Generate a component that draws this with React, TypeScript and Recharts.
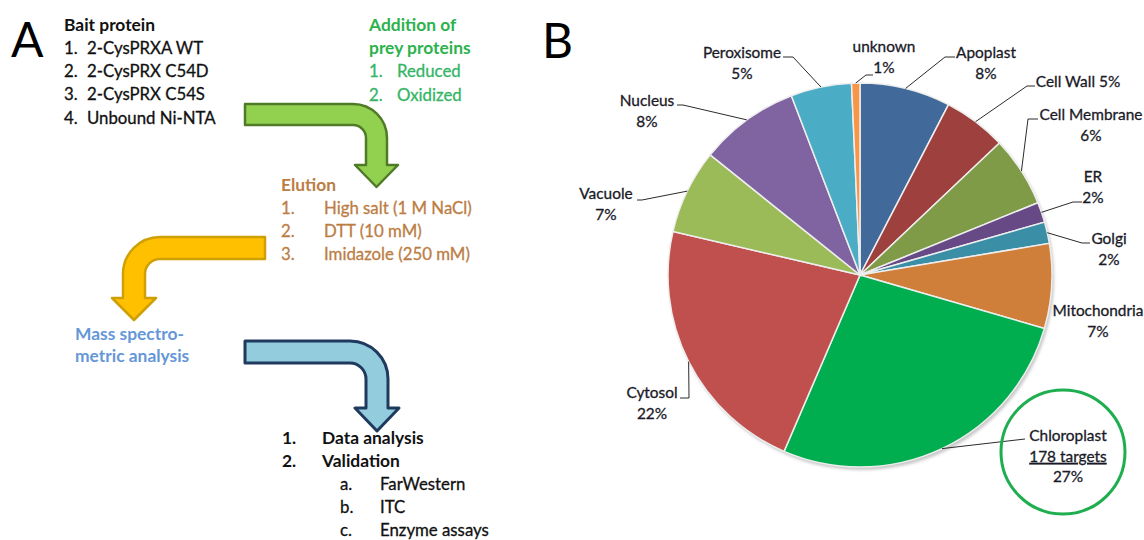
import { PieChart, Pie, Cell } from "recharts";

// Panel B: subcellular localisation of the captured targets (share of all targets, %)
const compartments = [
  "Apoplast",
  "Cell Wall",
  "Cell Membrane",
  "ER",
  "Golgi",
  "Mitochondria",
  "Chloroplast",
  "Cytosol",
  "Vacuole",
  "Nucleus",
  "Peroxisome",
  "unknown",
];
const shares = [7.6, 5.3, 5.9, 1.7, 1.8, 7.1, 26.9, 22.1, 7.1, 8.4, 5.1, 0.7];
const sliceColors = [
  "#416A9A",
  "#9E403D",
  "#7F9B48",
  "#674A85",
  "#3A8FA7",
  "#D07F3B",
  "#00AE4F",
  "#C0504D",
  "#9BBB59",
  "#8064A2",
  "#4BACC6",
  "#F79646",
];
const chloroplastTargets = 178;

// Panel A: workflow text
const baitProteins = ["2-CysPRXA WT", "2-CysPRX C54D", "2-CysPRX C54S", "Unbound Ni-NTA"];
const preyStates = ["Reduced", "Oxidized"];
const elutionSteps = ["High salt (1 M NaCl)", "DTT (10 mM)", "Imidazole (250 mM)"];
const analysisSteps = ["Data analysis", "Validation"];
const validationSteps = ["FarWestern", "ITC", "Enzyme assays"];

const FONT = "Lato, 'Open Sans', sans-serif";
const RAD = Math.PI / 180;

const pieData = compartments.map((name, i) => ({ name, value: shares[i] }));
const total = shares.reduce((a, b) => a + b, 0);

// where each slice label sits (hand placed like the Excel "best fit")
type LabelSpot = {
  x: number;
  y: number;
  elbow?: [number, number];
  end?: [number, number];
  oneLine?: boolean;
};
const labelSpots: LabelSpot[] = [
  { x: 986, y: 53, elbow: [945, 57], end: [955, 57] },
  { x: 1078, y: 82, elbow: [1027, 86], end: [1035, 86], oneLine: true },
  { x: 1091, y: 115, elbow: [1028, 119], end: [1038, 119] },
  { x: 1093, y: 177, elbow: [1073, 202], end: [1082, 202] },
  { x: 1109, y: 239, elbow: [1082, 243], end: [1090, 243] },
  { x: 1098, y: 311 },
  { x: 1068, y: 436, elbow: [1025, 439], end: [1025, 439] },
  { x: 652, y: 393, elbow: [689, 398], end: [680, 398] },
  { x: 606, y: 194, elbow: [642, 200], end: [637, 200] },
  { x: 647, y: 101, elbow: [683, 105], end: [677, 105] },
  { x: 742, y: 53, elbow: [793, 57], end: [783, 57] },
  { x: 884, y: 47, elbow: [866, 75], end: [873, 75] },
];

const LABEL_COLOR = "#1a1a28";

const renderLabel = (props: any) => {
  const { cx, cy, midAngle, outerRadius, index } = props;
  const spot = labelSpots[index];
  const name = compartments[index];
  const pct = `${Math.round((shares[index] / total) * 100)}%`;
  const sx = cx + outerRadius * Math.cos(-midAngle * RAD);
  const sy = cy + outerRadius * Math.sin(-midAngle * RAD);
  const gap = 20.5;
  const textProps = {
    fontFamily: FONT,
    fontSize: 15.4,
    fill: LABEL_COLOR,
    stroke: LABEL_COLOR,
    strokeWidth: 0.3,
    textAnchor: "middle" as const,
    dy: "0.35em",
  };
  const isChloro = name === "Chloroplast";
  return (
    <g key={`lbl-${index}`}>
      {spot.elbow && spot.end && (
        <polyline
          points={`${sx},${sy} ${spot.elbow[0]},${spot.elbow[1]} ${spot.end[0]},${spot.end[1]}`}
          fill="none"
          stroke="#2b2b2b"
          strokeWidth={1}
        />
      )}
      {isChloro && (
        <circle cx={spot.x - 5} cy={spot.y + 16} r={62} fill="none" stroke="#1FAE4F" strokeWidth={3} />
      )}
      {spot.oneLine ? (
        <text x={spot.x} y={spot.y} {...textProps}>
          {`${name} ${pct}`}
        </text>
      ) : isChloro ? (
        <>
          <text x={spot.x} y={spot.y} {...textProps}>
            {name}
          </text>
          <text x={spot.x} y={spot.y + gap} {...textProps} textDecoration="underline">
            {`${chloroplastTargets} targets`}
          </text>
          <text x={spot.x} y={spot.y + gap * 2} {...textProps}>
            {pct}
          </text>
        </>
      ) : (
        <>
          <text x={spot.x} y={spot.y} {...textProps}>
            {name}
          </text>
          <text x={spot.x} y={spot.y + gap} {...textProps}>
            {pct}
          </text>
        </>
      )}
    </g>
  );
};

function bentArrowPath(
  start: number,
  top: number,
  outer: number,
  t: number,
  R: number,
  headY: number,
  headHalf: number,
  tipY: number,
  dir: 1 | -1
) {
  const r = R - t;
  const inner = outer - dir * t;
  const mid = outer - (dir * t) / 2;
  const sweepOut = dir === 1 ? 1 : 0;
  const sweepIn = dir === 1 ? 0 : 1;
  return [
    `M ${start} ${top}`,
    `H ${outer - dir * R}`,
    `A ${R} ${R} 0 0 ${sweepOut} ${outer} ${top + R}`,
    `V ${headY}`,
    `H ${mid + dir * headHalf}`,
    `L ${mid} ${tipY}`,
    `L ${mid - dir * headHalf} ${headY}`,
    `H ${inner}`,
    `V ${top + t + r}`,
    `A ${r} ${r} 0 0 ${sweepIn} ${inner - dir * r} ${top + t}`,
    `H ${start}`,
    "Z",
  ].join(" ");
}

// regular and bold text (a hairline stroke makes Lato look closer to the heavier Calibri)
const reg = (c: string) => ({ fontFamily: FONT, fontSize: 16.8, dy: "0.35em", fill: c, stroke: c, strokeWidth: 0.3 });
const bold = (c: string) => ({ fontFamily: FONT, fontSize: 17.4, dy: "0.35em", fill: c, fontWeight: "bold" as const });

const INK = "#111";
const GREEN_H = "#2BB24C";
const GREEN_T = "#35B566";
const BROWN = "#BC7D44";
const BLUE_T = "#6597D7";

function Workflow() {
  return (
    <svg width={1144} height={540} style={{ position: "absolute", left: 0, top: 0 }}>
      <defs>
        <filter id="pieShadow" x="-10%" y="-10%" width="120%" height="120%">
          <feGaussianBlur stdDeviation="1.5" />
        </filter>
      </defs>
      <text x={11} y={57} fontFamily={FONT} fontSize={48} fill="#000">
        A
      </text>
      <text x={542} y={58} fontFamily={FONT} fontSize={48} fill="#000">
        B
      </text>

      {/* bait proteins */}
      <text x={64} y={25} {...bold(INK)}>
        Bait protein
      </text>
      {baitProteins.map((p, i) => (
        <g key={p}>
          <text x={64} y={48 + i * 23.3} {...reg(INK)}>
            {`${i + 1}.`}
          </text>
          <text x={87} y={48 + i * 23.3} {...reg(INK)}>
            {p}
          </text>
        </g>
      ))}

      {/* prey proteins */}
      <text x={369} y={25} {...bold(GREEN_H)}>
        Addition of
      </text>
      <text x={369} y={48} {...bold(GREEN_H)}>
        prey proteins
      </text>
      {preyStates.map((p, i) => (
        <g key={p}>
          <text x={369} y={71.5 + i * 23.3} {...reg(GREEN_T)}>
            {`${i + 1}.`}
          </text>
          <text x={397} y={71.5 + i * 23.3} {...reg(GREEN_T)}>
            {p}
          </text>
        </g>
      ))}

      <path
        d={bentArrowPath(245, 104, 387, 21, 34, 165, 21.5, 187, 1)}
        fill="#92D050"
        stroke="#4F7B27"
        strokeWidth={2.5}
        strokeLinejoin="round"
      />

      {/* elution */}
      <text x={281} y={185} {...bold(BROWN)}>
        Elution
      </text>
      {elutionSteps.map((s, i) => (
        <g key={s}>
          <text x={281} y={208 + i * 23.3} {...reg(BROWN)}>
            {`${i + 1}.`}
          </text>
          <text x={324} y={208 + i * 23.3} {...reg(BROWN)}>
            {s}
          </text>
        </g>
      ))}

      <path
        d={bentArrowPath(265, 237, 123, 22, 37, 298, 22, 320, -1)}
        fill="#FFC000"
        stroke="#CFA006"
        strokeWidth={2.5}
        strokeLinejoin="round"
      />

      {/* mass spec */}
      <text x={75} y={334} {...bold(BLUE_T)}>
        Mass spectro-
      </text>
      <text x={75} y={356} {...bold(BLUE_T)}>
        metric analysis
      </text>

      <path
        d={bentArrowPath(245, 341, 388, 22, 38, 408, 22, 431, 1)}
        fill="#93CDDD"
        stroke="#1F3A5E"
        strokeWidth={3}
        strokeLinejoin="round"
      />

      {/* analysis */}
      {analysisSteps.map((s, i) => (
        <g key={s}>
          <text x={282} y={438 + i * 23} {...bold(INK)}>
            {`${i + 1}.`}
          </text>
          <text x={322} y={438 + i * 23} {...bold(INK)}>
            {s}
          </text>
        </g>
      ))}
      {validationSteps.map((s, i) => (
        <g key={s}>
          <text x={340} y={484 + i * 23} {...reg(INK)}>
            {`${String.fromCharCode(97 + i)}.`}
          </text>
          <text x={380} y={484 + i * 23} {...reg(INK)}>
            {s}
          </text>
        </g>
      ))}

      {/* soft shadow under the pie */}
      <circle cx={862} cy={278} r={192} fill="#c8c8c8" filter="url(#pieShadow)" />
    </svg>
  );
}

export default function App() {
  return (
    <div
      style={{
        position: "absolute",
        left: 0,
        top: 0,
        width: 1144,
        height: 540,
        background: "#fff",
        overflow: "hidden",
      }}
    >
      <Workflow />
      <div style={{ position: "absolute", left: 0, top: 0 }}>
        <PieChart width={1144} height={540} margin={{ top: 0, right: 0, bottom: 0, left: 0 }}>
          <Pie
            data={pieData}
            dataKey="value"
            nameKey="name"
            cx={860}
            cy={275}
            outerRadius={192}
            startAngle={90}
            endAngle={-270}
            stroke="#eeeeee"
            strokeWidth={1.5}
            label={renderLabel}
            labelLine={false}
            isAnimationActive={false}
          >
            {pieData.map((d, i) => (
              <Cell key={d.name} fill={sliceColors[i]} />
            ))}
          </Pie>
        </PieChart>
      </div>
    </div>
  );
}
